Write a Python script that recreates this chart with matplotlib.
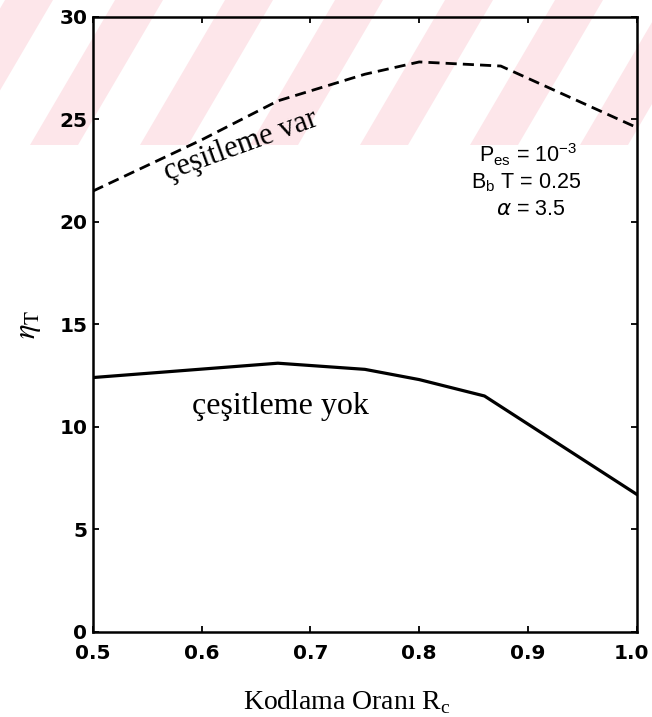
import numpy as np
import matplotlib
matplotlib.use("Agg")
import matplotlib.pyplot as plt
import matplotlib.transforms as mtransforms
from matplotlib.patches import Polygon

# veriler
rc_var = [0.5, 0.6, 0.67, 0.75, 0.8, 0.875, 1.0]
eta_var = [21.5, 24.0, 25.9, 27.2, 27.8, 27.6, 24.6]

rc_yok = [0.5, 0.67, 0.75, 0.8, 0.86, 1.0]
eta_yok = [12.4, 13.1, 12.8, 12.3, 11.5, 6.7]

xticks = [0.5, 0.6, 0.7, 0.8, 0.9, 1.0]
xtick_labels = ["0.5", "0.6", "0.7", "0.8", "0.9", "1.0"]
yticks = [0, 5, 10, 15, 20, 25, 30]

fig = plt.figure(figsize=(6.52, 7.17), dpi=100)
ax = fig.add_axes([0.1426, 0.119, 0.834, 0.8575])
ax.patch.set_alpha(0)

# soluk kirmizi filigran seritleri (tarama izi)
W, H = 652, 717
for x0 in range(-80, 700, 110):
    pts = [(x0, 145), (x0 + 48, 145), (x0 + 133, 0), (x0 + 85, 0)]
    pts = [(px / W, 1 - py / H) for px, py in pts]
    fig.patches.append(Polygon(pts, closed=True, transform=fig.transFigure,
                               facecolor="#fde6ea", edgecolor="none", zorder=-10))

ax.plot(rc_var, eta_var, color="black", lw=2.0, linestyle=(0, (4, 2.2)))
ax.plot(rc_yok, eta_yok, color="black", lw=2.3)

ax.set_xlim(0.5, 1.0)
ax.set_ylim(0, 30)
ax.set_xticks(xticks)
ax.set_xticklabels(xtick_labels)
ax.set_yticks(yticks)
ax.tick_params(direction="in", length=4, width=1.3, top=True, right=True,
               labelsize=14.5)
ax.tick_params(axis="x", pad=9)
ax.tick_params(axis="y", pad=4)
for lab in ax.get_xticklabels() + ax.get_yticklabels():
    lab.set_fontfamily("DejaVu Sans")
    lab.set_fontweight("bold")
# son etiketi (1.0) kenardan kesilmesin diye biraz sola kaydir
last = ax.get_xticklabels()[-1]
last.set_transform(last.get_transform() +
                   mtransforms.ScaledTranslation(-5 / 100, 0, fig.dpi_scale_trans))
for sp in ax.spines.values():
    sp.set_linewidth(1.8)

ax.set_xlabel(r"Kodlama Oranı R$_\mathregular{c}$", fontfamily="Liberation Serif",
              fontsize=20, labelpad=18, x=0.466)
ax.set_ylabel(r"$\eta_\mathrm{T}$", fontsize=22, math_fontfamily="stix", labelpad=12)

ax.text(0.672, 11.0, "çeşitleme yok", fontfamily="Liberation Serif", fontsize=23,
        ha="center", va="center")
ax.text(0.636, 23.7, "çeşitleme var", fontfamily="Liberation Serif", fontsize=22,
        ha="center", va="center", rotation=20)

sans = dict(fontfamily="Liberation Sans", fontsize=15.5, ha="center", va="center")
ax.text(0.9, 23.25, r"P$_\mathregular{es}$ = 10$^\mathregular{-3}$", **sans)
ax.text(0.898, 21.9, r"B$_\mathregular{b}$ T = 0.25", **sans)
ax.text(0.903, 20.6, r"$\alpha$ = 3.5", **sans)

fig.savefig("out.png", dpi=100)
